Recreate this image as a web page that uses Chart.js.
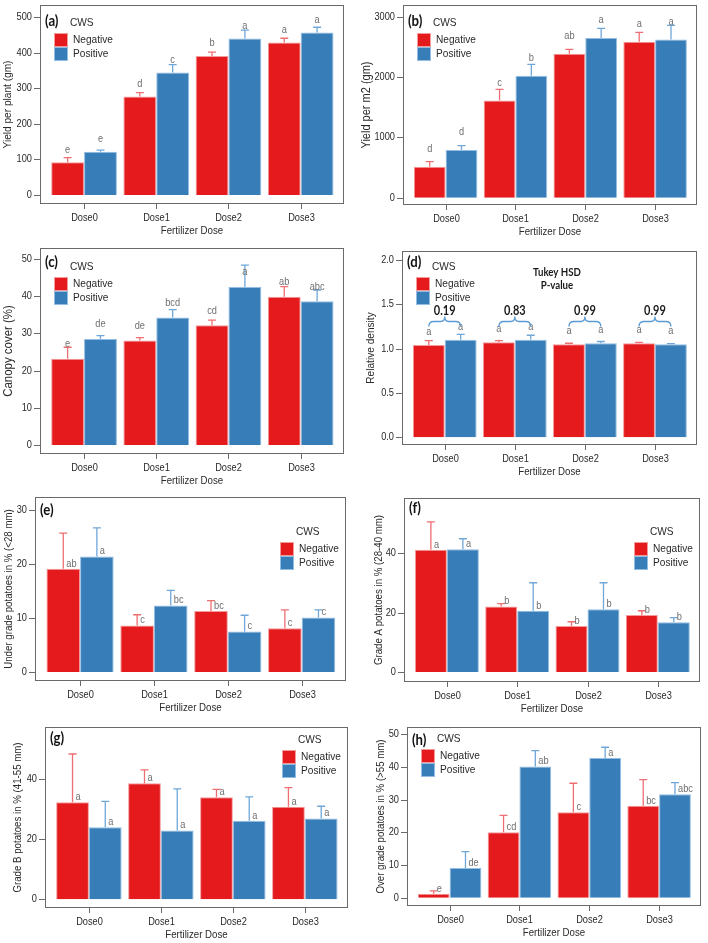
<!DOCTYPE html>
<html>
<head>
<meta charset="utf-8">
<script src="https://cdn.jsdelivr.net/npm/chart.js@4.4.1/dist/chart.umd.min.js"></script>
<style>
  html, body { margin: 0; padding: 0; background: #fff; }
  body { width: 708px; height: 943px; position: relative; overflow: hidden; }
  canvas { position: absolute; }
</style>
</head>
<body>
<script>
// ---- данные ----
const doses = ['Dose0', 'Dose1', 'Dose2', 'Dose3'];
const groups = ['Negative', 'Positive'];

// (a) урожай на растение
const plantNeg = [92, 277, 391, 429];
const plantNegSe = [13, 11, 11, 12];
const plantPos = [122, 345, 440, 457];
const plantPosSe = [4, 22, 24, 15];
const plantNegLet = ['e', 'd', 'b', 'a'];
const plantPosLet = ['e', 'c', 'a', 'a'];
const plantTicks = [0, 100, 200, 300, 400, 500];

// (b) урожай на м2
const m2Neg = [514, 1613, 2387, 2586];
const m2NegSe = [83, 183, 72, 154];
const m2Pos = [790, 2022, 2646, 2624];
const m2PosSe = [72, 188, 161, 232];
const m2NegLet = ['d', 'c', 'ab', 'a'];
const m2PosLet = ['d', 'b', 'a', 'a'];
const m2Ticks = [0, 1000, 2000, 3000];

// (c) покрытие
const canopyNeg = [23.2, 28.1, 32.2, 39.9];
const canopyNegSe = [3.1, 0.8, 1.4, 2.7];
const canopyPos = [28.5, 34.3, 42.5, 38.7];
const canopyPosSe = [0.9, 2.1, 5.9, 3.0];
const canopyNegLet = ['e', 'de', 'cd', 'ab'];
const canopyPosLet = ['de', 'bcd', 'a', 'abc'];
const canopyTicks = [0, 10, 20, 30, 40, 50];

// (d) относительная плотность
const densNeg = [1.04, 1.07, 1.05, 1.06];
const densNegSe = [0.05, 0.02, 0.01, 0.01];
const densPos = [1.10, 1.10, 1.06, 1.05];
const densPosSe = [0.06, 0.05, 0.02, 0.005];
const densNegLet = ['a', 'a', 'a', 'a'];
const densPosLet = ['a', 'a', 'a', 'a'];
const densPvals = ['0.19', '0.83', '0.99', '0.99'];
const densTicks = [0, 0.5, 1.0, 1.5, 2.0];

// (e) мелкие клубни
const underNeg = [19.1, 8.6, 11.3, 8.1];
const underNegSe = [6.6, 2.0, 1.9, 3.4];
const underPos = [21.4, 12.3, 7.5, 10.1];
const underPosSe = [5.3, 2.8, 3.0, 1.4];
const underNegLet = ['ab', 'c', 'bc', 'c'];
const underPosLet = ['a', 'bc', 'c', 'c'];
const underTicks = [0, 10, 20, 30];

// (f) фракция A
const gradeANeg = [41.1, 22.0, 15.5, 19.2];
const gradeANegSe = [9.4, 1.0, 1.4, 1.4];
const gradeAPos = [41.3, 20.6, 21.1, 16.7];
const gradeAPosSe = [3.5, 9.4, 8.9, 1.6];
const gradeANegLet = ['a', 'b', 'b', 'b'];
const gradeAPosLet = ['a', 'b', 'b', 'b'];
const gradeATicks = [0, 20, 40];

// (g) фракция B
const gradeBNeg = [32.3, 38.7, 34.0, 30.8];
const gradeBNegSe = [16.1, 4.4, 2.6, 6.4];
const gradeBPos = [24.0, 22.9, 26.2, 26.9];
const gradeBPosSe = [8.6, 13.9, 7.9, 4.1];
const gradeBNegLet = ['a', 'a', 'a', 'a'];
const gradeBPosLet = ['a', 'a', 'a', 'a'];
const gradeBTicks = [0, 20, 40];

// (h) крупные клубни
const overNeg = [1.2, 20.0, 26.1, 28.1];
const overNegSe = [0.9, 5.2, 8.9, 8.0];
const overPos = [9.1, 40.1, 42.7, 31.6];
const overPosSe = [5.0, 4.9, 3.3, 3.6];
const overNegLet = ['e', 'cd', 'c', 'bc'];
const overPosLet = ['de', 'ab', 'a', 'abc'];
const overTicks = [0, 10, 20, 30, 40, 50];

// ---- стили ----
const RED = '#E41A1C', RED_EDGE = '#F39A9B', RED_ERR = '#EE6F71';
const BLUE = '#377EB8', BLUE_EDGE = '#93BDE2', BLUE_ERR = '#70A7D8';
const AXIS = '#6a6a6a';
const TEXT = '#2a2a2a';
const LETTER = '#6f6f6f';
const SANS = '"Liberation Sans", Arial, sans-serif';
const BOLD = 'Lato, "Open Sans", sans-serif';
const SX = 0.88;
const PAD = { left: 50, top: 8, right: 8, bottom: 38 };

// текст с лёгким горизонтальным сжатием, как в оригинале
function txt(ctx, s, x, y, font, color, align, rot) {
    ctx.save();
    ctx.translate(x, y);
    if (rot) ctx.rotate(rot);
    ctx.scale(SX, 1);
    ctx.font = font;
    ctx.fillStyle = color;
    ctx.textAlign = align || 'center';
    ctx.textBaseline = 'middle';
    ctx.fillText(s, 0, 0);
    ctx.restore();
}

function swatch(ctx, x, y, fill, edge) {
    ctx.fillStyle = fill;
    ctx.fillRect(x, y, 14, 14);
    ctx.strokeStyle = edge;
    ctx.lineWidth = 1;
    ctx.strokeRect(x + 0.5, y + 0.5, 13, 13);
}

function brace(ctx, x1, x2, y) {
    const xm = (x1 + x2) / 2;
    ctx.beginPath();
    ctx.moveTo(x1, y + 5);
    ctx.quadraticCurveTo(x1, y, x1 + 5, y);
    ctx.lineTo(xm - 4, y);
    ctx.quadraticCurveTo(xm, y, xm, y - 5);
    ctx.quadraticCurveTo(xm, y, xm + 4, y);
    ctx.lineTo(x2 - 5, y);
    ctx.quadraticCurveTo(x2, y, x2, y + 5);
    ctx.stroke();
}

function makePanel(p) {
    const [l, t, r, b] = p.frame;
    const w = r - l + PAD.left + PAD.right;
    const h = b - t + PAD.top + PAD.bottom;
    const cv = document.createElement('canvas');
    cv.width = w; cv.height = h;
    cv.style.left = (l - PAD.left) + 'px';
    cv.style.top = (t - PAD.top) + 'px';
    cv.style.width = w + 'px';
    cv.style.height = h + 'px';
    document.body.appendChild(cv);

    const panelPlugin = {
        id: 'panel',
        afterDatasetsDraw(chart) {
            const ctx = chart.ctx;
            const area = chart.chartArea;
            const xs = chart.scales.x, ys = chart.scales.y;

            // планки ошибок и буквы
            chart.data.datasets.forEach((ds, di) => {
                const meta = chart.getDatasetMeta(di);
                meta.data.forEach((bar, j) => {
                    const top = ys.getPixelForValue(ds.data[j].y + ds.se[j]);
                    ctx.strokeStyle = ds.errColor;
                    ctx.lineWidth = 1.3;
                    ctx.beginPath();
                    ctx.moveTo(bar.x, bar.y);
                    ctx.lineTo(bar.x, top);
                    ctx.moveTo(bar.x - 4, top);
                    ctx.lineTo(bar.x + 4, top);
                    ctx.stroke();
                    if (p.letterMode === 'top') {
                        txt(ctx, ds.letters[j], bar.x, bar.y - p.letOff, '10.5px ' + SANS, LETTER);
                    } else {
                        txt(ctx, ds.letters[j], bar.x + 3, bar.y - 5, '10.5px ' + SANS, LETTER, 'left');
                    }
                });
            });

            // рамка
            ctx.strokeStyle = AXIS;
            ctx.lineWidth = 1;
            ctx.strokeRect(area.left + 0.5, area.top + 0.5, area.right - area.left - 1, area.bottom - area.top - 1);

            // ось Y
            p.ticks.forEach(v => {
                const y = Math.round(ys.getPixelForValue(v)) + 0.5;
                ctx.beginPath();
                ctx.moveTo(area.left - 6, y);
                ctx.lineTo(area.left, y);
                ctx.stroke();
                const s = p.decimals ? v.toFixed(p.decimals) : String(v);
                txt(ctx, s, area.left - 8, y, '10.5px ' + SANS, TEXT, 'right');
            });
            // ось X
            doses.forEach((d, i) => {
                const x = Math.round(xs.getPixelForValue(i)) + 0.5;
                ctx.beginPath();
                ctx.moveTo(x, area.bottom);
                ctx.lineTo(x, area.bottom + 5);
                ctx.stroke();
                txt(ctx, d, x, area.bottom + 14, '10.5px ' + SANS, TEXT);
            });
            const cx = (area.left + area.right) / 2, cy = (area.top + area.bottom) / 2;
            txt(ctx, 'Fertilizer Dose', cx, area.bottom + 27, '11px ' + SANS, TEXT);
            txt(ctx, p.yTitle, area.left - p.yTitleOff, cy, (p.yTitleSize || 11) + 'px ' + SANS, TEXT, 'center', -Math.PI / 2);

            // метка панели
            txt(ctx, p.tag, area.left + 5, area.top + p.tagY, 'bold 15px ' + BOLD, '#111', 'left');

            // легенда
            let sx, sy;
            if (p.legend === 'left') {
                sx = area.left + 14;
                sy = area.top + 28 + p.legDy;
            } else {
                sx = area.right - 66;
                sy = area.top + 45 + p.legDy;
            }
            txt(ctx, 'CWS', sx + 16, sy - 10, '11.5px ' + SANS, TEXT, 'left');
            swatch(ctx, sx, sy, RED, RED_EDGE);
            swatch(ctx, sx, sy + 14, BLUE, BLUE_EDGE);
            txt(ctx, groups[0], sx + 19, sy + 7, '11.5px ' + SANS, TEXT, 'left');
            txt(ctx, groups[1], sx + 19, sy + 21, '11.5px ' + SANS, TEXT, 'left');

            // скобки Tukey HSD для (d)
            if (p.pvals) {
                const m0 = chart.getDatasetMeta(0), m1 = chart.getDatasetMeta(1);
                const by = Math.round(ys.getPixelForValue(p.braceLevel)) + 0.5;
                ctx.strokeStyle = '#5B9BD5';
                ctx.lineWidth = 1.3;
                p.pvals.forEach((pv, j) => {
                    const x1 = m0.data[j].x, x2 = m1.data[j].x;
                    brace(ctx, x1, x2, by);
                    txt(ctx, pv, (x1 + x2) / 2, by - 11, 'bold 12.5px ' + BOLD, '#1a1a1a');
                });
                txt(ctx, 'Tukey HSD', area.left + 155, area.top + 21, 'bold 11px ' + BOLD, '#1a1a1a');
                txt(ctx, 'P-value', area.left + 155, area.top + 34, 'bold 11px ' + BOLD, '#1a1a1a');
            }
        }
    };

    const barStyle = { borderWidth: 1, categoryPercentage: 0.91, barPercentage: 1 };

    new Chart(cv.getContext('2d'), {
        type: 'bar',
        data: {
            datasets: [
                Object.assign({
                    label: groups[0],
                    data: p.neg.map((v, i) => ({ x: i, y: v })),
                    backgroundColor: RED, borderColor: RED_EDGE,
                    se: p.negSe, letters: p.negLet, errColor: RED_ERR
                }, barStyle),
                Object.assign({
                    label: groups[1],
                    data: p.pos.map((v, i) => ({ x: i, y: v })),
                    backgroundColor: BLUE, borderColor: BLUE_EDGE,
                    se: p.posSe, letters: p.posLet, errColor: BLUE_ERR
                }, barStyle)
            ]
        },
        options: {
            responsive: false,
            animation: false,
            devicePixelRatio: 1,
            layout: { padding: PAD },
            plugins: { legend: { display: false }, tooltip: { enabled: false } },
            scales: {
                x: {
                    type: 'linear', min: -0.61, max: 3.6, offset: false, display: false,
                    // деления только на дозах, чтобы ширина столбцов считалась от шага категорий
                    afterBuildTicks: (scale) => { scale.ticks = doses.map((d, i) => ({ value: i })); }
                },
                y: { type: 'linear', min: p.ymin, max: p.ymax, display: false }
            }
        },
        plugins: [panelPlugin]
    });
}

const panels = [
    { tag: '(a)', frame: [40, 5, 344, 204], ymin: -25.3, ymax: 534.6, ticks: plantTicks,
      neg: plantNeg, negSe: plantNegSe, pos: plantPos, posSe: plantPosSe, negLet: plantNegLet, posLet: plantPosLet,
      yTitle: 'Yield per plant (gm)', yTitleOff: 32, yTitleSize: 11.5, letterMode: 'top', letOff: 12.5,
      legend: 'left', legDy: 0, tagY: 16 },
    { tag: '(b)', frame: [403, 5, 697, 205], ymin: -121, ymax: 3194, ticks: m2Ticks,
      neg: m2Neg, negSe: m2NegSe, pos: m2Pos, posSe: m2PosSe, negLet: m2NegLet, posLet: m2PosLet,
      yTitle: 'Yield per m2 (gm)', yTitleOff: 36, yTitleSize: 12.5, letterMode: 'top', letOff: 17.5,
      legend: 'left', legDy: 0, tagY: 16 },
    { tag: '(c)', frame: [40, 248, 344, 454], ymin: -2.42, ymax: 53.0, ticks: canopyTicks,
      neg: canopyNeg, negSe: canopyNegSe, pos: canopyPos, posSe: canopyPosSe, negLet: canopyNegLet, posLet: canopyPosLet,
      yTitle: 'Canopy cover (%)', yTitleOff: 32, yTitleSize: 13, letterMode: 'top', letOff: 14.5,
      legend: 'left', legDy: 1, tagY: 14 },
    { tag: '(d)', frame: [402, 251, 697, 445], ymin: -0.087, ymax: 2.10, ticks: densTicks, decimals: 1,
      neg: densNeg, negSe: densNegSe, pos: densPos, posSe: densPosSe, negLet: densNegLet, posLet: densPosLet,
      yTitle: 'Relative density', yTitleOff: 31, yTitleSize: 11.5, letterMode: 'top', letOff: 13,
      legend: 'left', legDy: -2, tagY: 11, pvals: densPvals, braceLevel: 1.31 },
    { tag: '(e)', frame: [35, 497, 346, 681], ymin: -1.67, ymax: 32.4, ticks: underTicks,
      neg: underNeg, negSe: underNegSe, pos: underPos, posSe: underPosSe, negLet: underNegLet, posLet: underPosLet,
      yTitle: 'Under grade potatoes in % (<28 mm)', yTitleOff: 26, letterMode: 'side',
      legend: 'right', legDy: 0, tagY: 13 },
    { tag: '(f)', frame: [404, 498, 700, 682], ymin: -3.36, ymax: 58.5, ticks: gradeATicks,
      neg: gradeANeg, negSe: gradeANegSe, pos: gradeAPos, posSe: gradeAPosSe, negLet: gradeANegLet, posLet: gradeAPosLet,
      yTitle: 'Grade A potatoes in % (28-40 mm)', yTitleOff: 25, letterMode: 'side',
      legend: 'right', legDy: -1, tagY: 10 },
    { tag: '(g)', frame: [45, 727, 348, 908], ymin: -2.9, ymax: 57.4, ticks: gradeBTicks,
      neg: gradeBNeg, negSe: gradeBNegSe, pos: gradeBPos, posSe: gradeBPosSe, negLet: gradeBNegLet, posLet: gradeBPosLet,
      yTitle: 'Grade B potatoes in % (41-55 mm)', yTitleOff: 27, letterMode: 'side',
      legend: 'right', legDy: -22, tagY: 11 },
    { tag: '(h)', frame: [407, 727, 701, 906], ymin: -2.54, ymax: 52.2, ticks: overTicks,
      neg: overNeg, negSe: overNegSe, pos: overPos, posSe: overPosSe, negLet: overNegLet, posLet: overPosLet,
      yTitle: 'Over grade potatoes in % (>55 mm)', yTitleOff: 26, letterMode: 'side',
      legend: 'left', legDy: -6, tagY: 13 }
];

panels.forEach(makePanel);
</script>
</body>
</html>
